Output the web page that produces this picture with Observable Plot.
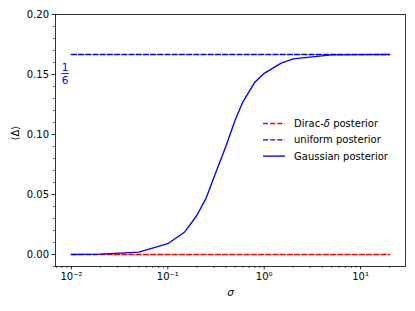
<!DOCTYPE html>
<html><head><meta charset="utf-8">
<script src="https://cdn.jsdelivr.net/npm/d3@7"></script>
<script src="https://cdn.jsdelivr.net/npm/@observablehq/plot@0.6"></script>
<style>body{margin:0;background:#fff}</style>
</head><body><div id="chart"></div>
<script>
const sigma = [0.01,0.02,0.05,0.1,0.15,0.2,0.25,0.3,0.4,0.5,0.6,0.7,0.8,1,1.5,2,5,10,20];
const gaussian = [0,0.0003,0.002,0.009,0.0188,0.0325,0.047,0.064,0.09,0.112,0.127,0.136,0.1436,0.151,0.1595,0.163,0.1664,0.1666,0.1667];
const refSigma = [0.01, 20];
const diracValue = [0, 0];
const uniformValue = [1/6, 1/6];
const xMajorTicks = [0.01, 0.1, 1, 10];
const xMinorTicks = [0.007,0.008,0.009,0.02,0.03,0.04,0.05,0.06,0.07,0.08,0.09,0.2,0.3,0.4,0.5,0.6,0.7,0.8,0.9,2,3,4,5,6,7,8,9,20];
const yMajorTicks = [0, 0.05, 0.10, 0.15, 0.20];
const yMinorTicks = [-0.01,0.01,0.02,0.03,0.04,0.06,0.07,0.08,0.09,0.11,0.12,0.13,0.14,0.16,0.17,0.18,0.19];
const legendLabels = [["Dirac-", "δ", " posterior"], ["uniform posterior"], ["Gaussian posterior"]];

const sup = {"-":"⁻","0":"⁰","1":"¹","2":"²","3":"³"};
const fmtPow = d => "10" + String(Math.round(Math.log10(d))).split("").map(c => sup[c]).join("");

const gData = sigma.map((s, i) => ({s, v: gaussian[i]}));
const dData = refSigma.map((s, i) => ({s, v: diracValue[i]}));
const uData = refSigma.map((s, i) => ({s, v: uniformValue[i]}));

const dash = "5,2.2";
const plot = Plot.plot({
  width: 415, height: 311,
  marginLeft: 55, marginRight: 10, marginTop: 14, marginBottom: 45,
  style: {fontFamily: "DejaVu Sans", fontSize: "10px", background: "#fff"},
  x: {type: "log", domain: [Math.pow(10, -2.165), Math.pow(10, 1.466)]},
  y: {domain: [-0.01, 0.2]},
  marks: [
    Plot.axisX({ticks: xMajorTicks, tickFormat: fmtPow, tickSize: 3.5, tickPadding: 3, label: null, fontSize: 10, strokeWidth: 0.8}),
    Plot.axisX({ticks: xMinorTicks, tickFormat: null, text: null, tickSize: 2, label: null, strokeWidth: 0.6}),
    Plot.axisY({ticks: yMajorTicks, tickFormat: d3.format(".2f"), tickSize: 3.5, tickPadding: 3, label: null, fontSize: 10, strokeWidth: 0.8}),
    Plot.axisY({ticks: yMinorTicks, tickFormat: null, text: null, tickSize: 2, label: null, strokeWidth: 0.6}),
    Plot.line(dData, {x: "s", y: "v", stroke: "#ff0000", strokeWidth: 1.35, strokeDasharray: dash}),
    Plot.line(uData, {x: "s", y: "v", stroke: "#0000ff", strokeWidth: 1.35, strokeDasharray: dash}),
    Plot.line(gData, {x: "s", y: "v", stroke: "#0000ff", strokeWidth: 1.35}),
    Plot.frame({stroke: "#000", strokeWidth: 0.8}),
    Plot.text(["σ"], {frameAnchor: "bottom", dy: 26, lineAnchor: "middle", fontStyle: "italic", fontSize: 10.5}),
    Plot.text(["⟨Δ⟩"], {frameAnchor: "left", dx: -40, rotate: -90, lineAnchor: "middle", fontSize: 10})
  ]
});
document.getElementById("chart").appendChild(plot);

// fraction annotation 1/6 placed relative to the uniform line via the y scale
const svg = d3.select(plot);
const y16 = plot.scale("y").apply(uniformValue[0]);
const fx = 65;
const g = svg.append("g").attr("fill", "#0000ff").attr("font-family", "DejaVu Sans").attr("font-size", 10.5).attr("text-anchor", "middle");
g.append("text").attr("x", fx).attr("y", y16 + 13).attr("dy", "0.35em").text("1");
g.append("line").attr("x1", fx - 3.8).attr("x2", fx + 3.8).attr("y1", y16 + 19.5).attr("y2", y16 + 19.5).attr("stroke", "#0000ff").attr("stroke-width", 0.9);
g.append("text").attr("x", fx).attr("y", y16 + 26.5).attr("dy", "0.35em").text("6");

// legend
const legendStyles = [
  {stroke: "#ff0000", dash: dash},
  {stroke: "#0000ff", dash: dash},
  {stroke: "#0000ff", dash: null}
];
const lg = svg.append("g").attr("font-family", "DejaVu Sans").attr("font-size", 10).attr("text-anchor", "start");
legendLabels.forEach((parts, i) => {
  const yy = 123.5 + i * 16.3;
  const ln = lg.append("line").attr("x1", 263).attr("x2", 285).attr("y1", yy).attr("y2", yy)
    .attr("stroke", legendStyles[i].stroke).attr("stroke-width", 1.35);
  if (legendStyles[i].dash) ln.attr("stroke-dasharray", legendStyles[i].dash);
  const t = lg.append("text").attr("x", 294).attr("y", yy).attr("dy", "0.35em").attr("fill", "#000");
  parts.forEach(p => {
    const ts = t.append("tspan").text(p);
    if (p === "δ") ts.attr("font-style", "italic");
  });
});
</script></body></html>
